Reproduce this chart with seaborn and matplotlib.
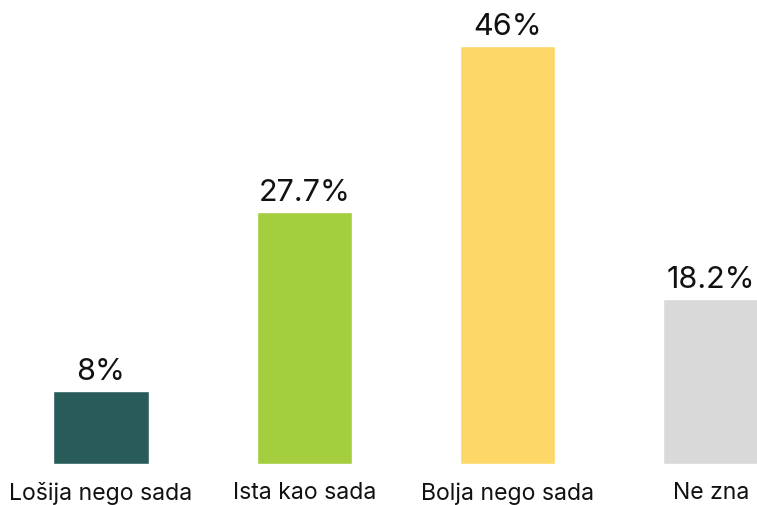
import matplotlib
matplotlib.use("Agg")
import matplotlib.pyplot as plt
import pandas as pd
import seaborn as sns

categories = ["Lošija nego sada", "Ista kao sada", "Bolja nego sada", "Ne zna"]
values = [8.0, 27.7, 46.0, 18.2]
value_labels = ["8%", "27.7%", "46%", "18.2%"]
colors = ["#2a5b5b", "#a4ce3d", "#fdd868", "#d9d9d9"]

sns.set_style("white")
plt.rcParams["font.family"] = ["Inter", "DejaVu Sans"]

df = pd.DataFrame({"kategorija": categories, "udio": values})

fig = plt.figure(figsize=(7.57, 5.05), dpi=100)
ax = fig.add_axes([0, 0.0812, 1, 0.9188])
sns.barplot(data=df, x="kategorija", y="udio", hue="kategorija",
            palette=colors, width=0.47, legend=False, ax=ax, saturation=1)

for i, (v, lab) in enumerate(zip(values, value_labels)):
    ax.text(i, v + 0.55, lab, ha="center", va="bottom", fontsize=22, color="#111111")

ax.set_xlim(-0.497, 3.227)
ax.set_ylim(0, 51.05)
ax.set_xlabel("")
ax.set_ylabel("")
ax.set_yticks([])
ax.tick_params(axis="x", length=0, labelsize=16.6, pad=13, colors="#111111")
sns.despine(left=True, bottom=True)

fig.savefig("out.png", dpi=100)
